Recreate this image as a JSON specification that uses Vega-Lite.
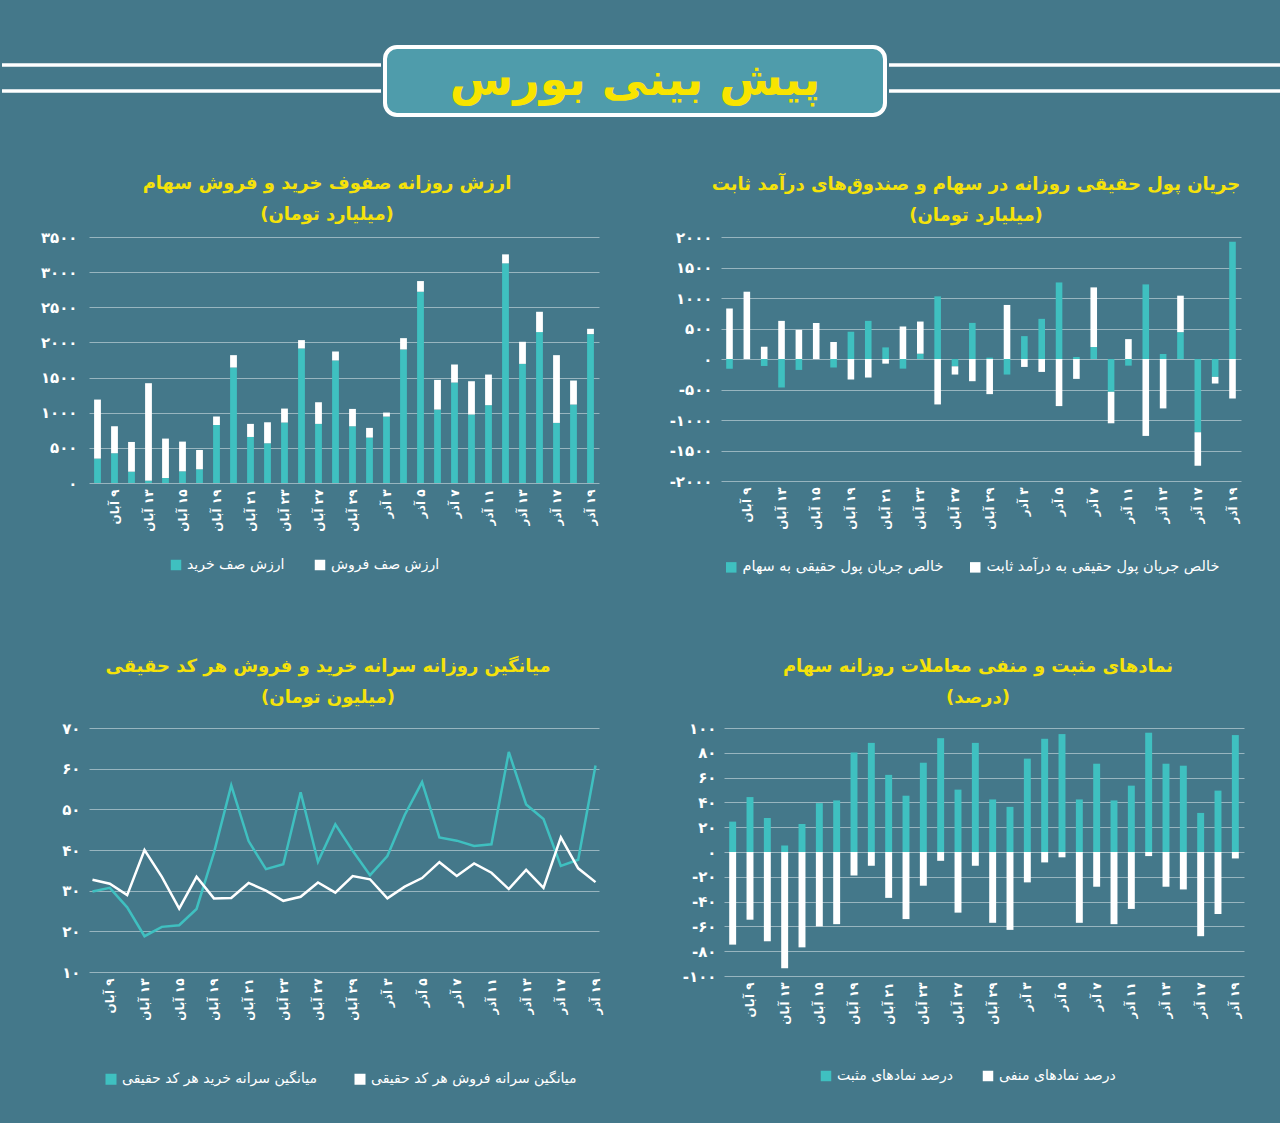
{
  "$schema": "https://vega.github.io/schema/vega-lite/v6.json",
  "background": "#44788a",
  "padding": {"top": 45, "left": 0, "right": 0, "bottom": 60},
  "datasets": {
    "days": [
      {"d": "\u200f۸ آبان", "buy": 347, "sell": 840, "eq": -158, "fi": 826, "pb": 29.8, "ps": 32.7, "pos": 24.5, "neg": -74.7},
      {"d": "\u200f۹ آبان", "buy": 423, "sell": 384, "eq": 0, "fi": 1103, "pb": 30.7, "ps": 31.7, "pos": 44.3, "neg": -54.6},
      {"d": "\u200f۱۲ آبان", "buy": 161, "sell": 423, "eq": -114, "fi": 201, "pb": 25.9, "ps": 28.9, "pos": 27.4, "neg": -72.0},
      {"d": "\u200f۱۳ آبان", "buy": 33, "sell": 1387, "eq": -467, "fi": 625, "pb": 18.8, "ps": 40.0, "pos": 5.2, "neg": -93.8},
      {"d": "\u200f۱۴ آبان", "buy": 71, "sell": 561, "eq": -179, "fi": 478, "pb": 21.1, "ps": 33.4, "pos": 22.6, "neg": -76.9},
      {"d": "\u200f۱۵ آبان", "buy": 166, "sell": 423, "eq": 0, "fi": 592, "pb": 21.5, "ps": 25.6, "pos": 39.4, "neg": -60.0},
      {"d": "\u200f۱۶ آبان", "buy": 195, "sell": 275, "eq": -141, "fi": 277, "pb": 25.5, "ps": 33.4, "pos": 41.6, "neg": -58.2},
      {"d": "\u200f۱۹ آبان", "buy": 826, "sell": 119, "eq": 446, "fi": -337, "pb": 39.3, "ps": 28.1, "pos": 80.2, "neg": -19.0},
      {"d": "\u200f۲۰ آبان", "buy": 1643, "sell": 176, "eq": 625, "fi": -304, "pb": 55.9, "ps": 28.2, "pos": 88.0, "neg": -11.1},
      {"d": "\u200f۲۱ آبان", "buy": 655, "sell": 186, "eq": 190, "fi": -76, "pb": 42.2, "ps": 31.9, "pos": 62.2, "neg": -37.0},
      {"d": "\u200f۲۲ آبان", "buy": 565, "sell": 299, "eq": -158, "fi": 533, "pb": 35.3, "ps": 30.0, "pos": 45.4, "neg": -54.1},
      {"d": "\u200f۲۳ آبان", "buy": 860, "sell": 199, "eq": 87, "fi": 527, "pb": 36.5, "ps": 27.5, "pos": 72.0, "neg": -27.2},
      {"d": "\u200f۲۶ آبان", "buy": 1914, "sell": 119, "eq": 1027, "fi": -745, "pb": 54.2, "ps": 28.5, "pos": 91.8, "neg": -7.1},
      {"d": "\u200f۲۷ آبان", "buy": 841, "sell": 308, "eq": -120, "fi": -135, "pb": 37.1, "ps": 32.0, "pos": 50.3, "neg": -48.9},
      {"d": "\u200f۲۸ آبان", "buy": 1743, "sell": 128, "eq": 592, "fi": -364, "pb": 46.3, "ps": 29.5, "pos": 88.0, "neg": -11.1},
      {"d": "\u200f۲۹ آبان", "buy": 807, "sell": 247, "eq": 22, "fi": -576, "pb": 39.8, "ps": 33.6, "pos": 42.4, "neg": -57.1},
      {"d": "\u200f۳۰ آبان", "buy": 646, "sell": 138, "eq": -255, "fi": 886, "pb": 33.8, "ps": 32.8, "pos": 36.4, "neg": -62.8},
      {"d": "\u200f۳ آذر", "buy": 945, "sell": 57, "eq": 375, "fi": -130, "pb": 38.5, "ps": 28.1, "pos": 75.3, "neg": -24.5},
      {"d": "\u200f۴ آذر", "buy": 1900, "sell": 161, "eq": 658, "fi": -212, "pb": 48.6, "ps": 31.0, "pos": 91.3, "neg": -8.4},
      {"d": "\u200f۵ آذر", "buy": 2721, "sell": 152, "eq": 1255, "fi": -772, "pb": 56.7, "ps": 33.1, "pos": 95.1, "neg": -4.3},
      {"d": "\u200f۶ آذر", "buy": 1045, "sell": 422, "eq": 33, "fi": -326, "pb": 43.1, "ps": 37.0, "pos": 42.4, "neg": -57.1},
      {"d": "\u200f۷ آذر", "buy": 1429, "sell": 257, "eq": 196, "fi": 978, "pb": 42.3, "ps": 33.6, "pos": 71.2, "neg": -28.0},
      {"d": "\u200f۱۰ آذر", "buy": 974, "sell": 474, "eq": -538, "fi": -516, "pb": 41.0, "ps": 36.7, "pos": 41.6, "neg": -58.2},
      {"d": "\u200f۱۱ آذر", "buy": 1107, "sell": 436, "eq": -109, "fi": 326, "pb": 41.4, "ps": 34.4, "pos": 53.5, "neg": -45.9},
      {"d": "\u200f۱۲ آذر", "buy": 3125, "sell": 128, "eq": 1223, "fi": -1261, "pb": 64.1, "ps": 30.4, "pos": 96.2, "neg": -3.3},
      {"d": "\u200f۱۳ آذر", "buy": 1695, "sell": 314, "eq": 82, "fi": -810, "pb": 51.2, "ps": 35.1, "pos": 71.2, "neg": -28.0},
      {"d": "\u200f۱۴ آذر", "buy": 2147, "sell": 289, "eq": 440, "fi": 598, "pb": 47.6, "ps": 30.7, "pos": 69.6, "neg": -30.2},
      {"d": "\u200f۱۷ آذر", "buy": 855, "sell": 964, "eq": -1201, "fi": -549, "pb": 36.1, "ps": 43.1, "pos": 31.5, "neg": -67.9},
      {"d": "\u200f۱۸ آذر", "buy": 1116, "sell": 342, "eq": -293, "fi": -109, "pb": 37.6, "ps": 35.5, "pos": 49.5, "neg": -50.0},
      {"d": "\u200f۱۹ آذر", "buy": 2118, "sell": 76, "eq": 1924, "fi": -647, "pb": 60.8, "ps": 32.1, "pos": 94.3, "neg": -5.2}
    ]
  },
  "spacing": 58,
  "resolve": {"scale": {"color": "independent", "x": "independent", "y": "independent"}, "legend": {"color": "independent"}},
  "vconcat": [
    {
      "spacing": 0,
      "resolve": {"scale": {"color": "independent", "x": "independent", "y": "independent"}},
      "hconcat": [
        {
          "width": 292, "height": 68,
          "data": {"values": [{"ly": 18}, {"ly": 44}]},
          "mark": {"type": "rule", "color": "#ffffff", "strokeWidth": 3.5},
          "encoding": {"y": {"field": "ly", "type": "quantitative", "scale": {"domain": [0, 68], "reverse": true},
            "axis": {"values": [18, 44], "title": null, "labels": false, "domain": false, "grid": false, "ticks": true, "tickSize": 87, "tickWidth": 3.5, "tickColor": "#ffffff", "translate": 0, "minExtent": 88, "maxExtent": 88}}}
        },
        {
          "width": 500, "height": 68,
          "view": {"fill": "#4f9cab", "stroke": "#ffffff", "strokeWidth": 4, "cornerRadius": 12},
          "data": {"values": [{"t": "پیش بینی بورس"}]},
          "mark": {"type": "text", "font": "DejaVu Sans", "fontSize": 46, "fontWeight": "bold", "color": "#f8e400", "baseline": "middle", "align": "center"},
          "encoding": {"text": {"field": "t", "type": "nominal"}}
        },
        {
          "width": 400, "height": 68,
          "data": {"values": [{"ly": 18}, {"ly": 44}]},
          "mark": {"type": "rule", "color": "#ffffff", "strokeWidth": 3.5},
          "encoding": {"y": {"field": "ly", "type": "quantitative", "scale": {"domain": [0, 68], "reverse": true}, "axis": null}}
        }
      ]
    },
    {
      "spacing": 84,
      "resolve": {"scale": {"color": "independent", "x": "independent", "y": "independent"}, "legend": {"color": "independent"}},
      "vconcat": [
        {
          "spacing": 62,
          "resolve": {"scale": {"color": "independent", "x": "independent", "y": "independent"}, "legend": {"color": "independent"}},
          "hconcat": [
            {
              "width": 510, "height": 246,
              "data": {"name": "days"},
              "transform": [{"fold": ["buy", "sell"], "as": ["k", "v"]}],
              "title": {"text": ["ارزش روزانه صفوف خرید و فروش سهام", "(میلیارد تومان)"], "dx": -17, "offset": 6},
              "mark": {"type": "bar"},
              "encoding": {
                "x": {"field": "d", "type": "ordinal", "sort": null, "title": null, "scale": {"paddingInner": 0.6, "paddingOuter": 0.3},
                  "axis": {"values": ["\u200f۹ آبان", "\u200f۱۳ آبان", "\u200f۱۵ آبان", "\u200f۱۹ آبان", "\u200f۲۱ آبان", "\u200f۲۳ آبان", "\u200f۲۷ آبان", "\u200f۲۹ آبان", "\u200f۳ آذر", "\u200f۵ آذر", "\u200f۷ آذر", "\u200f۱۱ آذر", "\u200f۱۳ آذر", "\u200f۱۷ آذر", "\u200f۱۹ آذر"]}},
                "y": {"field": "v", "type": "quantitative", "title": null, "scale": {"domain": [0, 3500]},
                  "axis": {"values": [0, 500, 1000, 1500, 2000, 2500, 3000, 3500], "minExtent": 88, "maxExtent": 88, "labelPadding": 12,
                    "labelExpr": "replace(replace(replace(replace(replace(replace(replace(replace(replace(replace(''+datum.value,regexp('0','g'),'۰'),regexp('1','g'),'۱'),regexp('2','g'),'۲'),regexp('3','g'),'۳'),regexp('4','g'),'۴'),regexp('5','g'),'۵'),regexp('6','g'),'۶'),regexp('7','g'),'۷'),regexp('8','g'),'۸'),regexp('9','g'),'۹')"}},
                "color": {"field": "k", "type": "nominal", "scale": {"domain": ["buy", "sell"], "range": ["#3fc0c0", "#ffffff"]},
                  "legend": {"title": null, "orient": "none", "legendX": 80, "legendY": 321, "labelExpr": "datum.label == 'buy' ? 'ارزش صف خرید' : 'ارزش صف فروش'"}},
                "order": {"field": "k", "sort": "ascending"}
              }
            },
            {
              "width": 520, "height": 244,
              "data": {"name": "days"},
              "transform": [{"fold": ["eq", "fi"], "as": ["k", "v"]}],
              "title": {"text": ["جریان پول حقیقی روزانه در سهام و صندوق‌های درآمد ثابت", "(میلیارد تومان)"], "dx": -5, "offset": 5},
              "mark": {"type": "bar"},
              "encoding": {
                "x": {"field": "d", "type": "ordinal", "sort": null, "title": null, "scale": {"paddingInner": 0.62, "paddingOuter": 0.3},
                  "axis": {"values": ["\u200f۹ آبان", "\u200f۱۳ آبان", "\u200f۱۵ آبان", "\u200f۱۹ آبان", "\u200f۲۱ آبان", "\u200f۲۳ آبان", "\u200f۲۷ آبان", "\u200f۲۹ آبان", "\u200f۳ آذر", "\u200f۵ آذر", "\u200f۷ آذر", "\u200f۱۱ آذر", "\u200f۱۳ آذر", "\u200f۱۷ آذر", "\u200f۱۹ آذر"]}},
                "y": {"field": "v", "type": "quantitative", "title": null, "scale": {"domain": [-2000, 2000]},
                  "axis": {"values": [-2000, -1500, -1000, -500, 0, 500, 1000, 1500, 2000], "minExtent": 60, "maxExtent": 60, "labelPadding": 9,
                    "labelExpr": "replace(replace(replace(replace(replace(replace(replace(replace(replace(replace(''+datum.value,regexp('0','g'),'۰'),regexp('1','g'),'۱'),regexp('2','g'),'۲'),regexp('3','g'),'۳'),regexp('4','g'),'۴'),regexp('5','g'),'۵'),regexp('6','g'),'۶'),regexp('7','g'),'۷'),regexp('8','g'),'۸'),regexp('9','g'),'۹')"}},
                "color": {"field": "k", "type": "nominal", "scale": {"domain": ["eq", "fi"], "range": ["#3fc0c0", "#ffffff"]},
                  "legend": {"title": null, "orient": "none", "legendX": 3, "legendY": 323, "labelFontSize": 14.5, "columnPadding": 24, "labelExpr": "datum.label == 'eq' ? 'خالص جریان پول حقیقی به سهام' : 'خالص جریان پول حقیقی به درآمد ثابت'"}},
                "order": {"field": "k", "sort": "ascending"}
              }
            }
          ]
        },
        {
          "spacing": 62,
          "resolve": {"scale": {"color": "independent", "x": "independent", "y": "independent"}, "legend": {"color": "independent"}},
          "hconcat": [
            {
              "width": 510, "height": 244,
              "data": {"name": "days"},
              "transform": [{"fold": ["pb", "ps"], "as": ["k", "v"]}],
              "title": {"text": ["میانگین روزانه سرانه خرید و فروش هر کد حقیقی", "(میلیون تومان)"], "dx": -16, "offset": 14},
              "mark": {"type": "line", "strokeWidth": 2.5},
              "encoding": {
                "x": {"field": "d", "type": "ordinal", "sort": null, "title": null, "scale": {"padding": 0.2},
                  "axis": {"values": ["\u200f۹ آبان", "\u200f۱۳ آبان", "\u200f۱۵ آبان", "\u200f۱۹ آبان", "\u200f۲۱ آبان", "\u200f۲۳ آبان", "\u200f۲۷ آبان", "\u200f۲۹ آبان", "\u200f۳ آذر", "\u200f۵ آذر", "\u200f۷ آذر", "\u200f۱۱ آذر", "\u200f۱۳ آذر", "\u200f۱۷ آذر", "\u200f۱۹ آذر"]}},
                "y": {"field": "v", "type": "quantitative", "title": null, "scale": {"domain": [10, 70]},
                  "axis": {"values": [10, 20, 30, 40, 50, 60, 70], "minExtent": 88, "maxExtent": 88, "labelPadding": 9,
                    "labelExpr": "replace(replace(replace(replace(replace(replace(replace(replace(replace(replace(''+datum.value,regexp('0','g'),'۰'),regexp('1','g'),'۱'),regexp('2','g'),'۲'),regexp('3','g'),'۳'),regexp('4','g'),'۴'),regexp('5','g'),'۵'),regexp('6','g'),'۶'),regexp('7','g'),'۷'),regexp('8','g'),'۸'),regexp('9','g'),'۹')"}},
                "color": {"field": "k", "type": "nominal", "scale": {"domain": ["pb", "ps"], "range": ["#3fc0c0", "#ffffff"]},
                  "legend": {"title": null, "orient": "none", "legendX": 15, "legendY": 344, "symbolType": "square", "symbolSize": 25, "symbolStrokeWidth": 6,
                    "labelExpr": "datum.label == 'pb' ? 'میانگین سرانه خرید هر کد حقیقی' : 'میانگین سرانه فروش هر کد حقیقی'"}}
              }
            },
            {
              "width": 520, "height": 248,
              "data": {"name": "days"},
              "transform": [{"fold": ["pos", "neg"], "as": ["k", "v"]}],
              "title": {"text": ["نمادهای مثبت و منفی معاملات روزانه سهام", "(درصد)"], "dx": -6, "offset": 14},
              "mark": {"type": "bar"},
              "encoding": {
                "x": {"field": "d", "type": "ordinal", "sort": null, "title": null, "scale": {"paddingInner": 0.6, "paddingOuter": 0.3},
                  "axis": {"values": ["\u200f۹ آبان", "\u200f۱۳ آبان", "\u200f۱۵ آبان", "\u200f۱۹ آبان", "\u200f۲۱ آبان", "\u200f۲۳ آبان", "\u200f۲۷ آبان", "\u200f۲۹ آبان", "\u200f۳ آذر", "\u200f۵ آذر", "\u200f۷ آذر", "\u200f۱۱ آذر", "\u200f۱۳ آذر", "\u200f۱۷ آذر", "\u200f۱۹ آذر"]}},
                "y": {"field": "v", "type": "quantitative", "title": null, "scale": {"domain": [-100, 100]},
                  "axis": {"values": [-100, -80, -60, -40, -20, 0, 20, 40, 60, 80, 100], "minExtent": 60, "maxExtent": 60, "labelPadding": 8,
                    "labelExpr": "replace(replace(replace(replace(replace(replace(replace(replace(replace(replace(''+datum.value,regexp('0','g'),'۰'),regexp('1','g'),'۱'),regexp('2','g'),'۲'),regexp('3','g'),'۳'),regexp('4','g'),'۴'),regexp('5','g'),'۵'),regexp('6','g'),'۶'),regexp('7','g'),'۷'),regexp('8','g'),'۸'),regexp('9','g'),'۹')"}},
                "color": {"field": "k", "type": "nominal", "scale": {"domain": ["pos", "neg"], "range": ["#3fc0c0", "#ffffff"]},
                  "legend": {"title": null, "orient": "none", "legendX": 95, "legendY": 341, "labelExpr": "datum.label == 'pos' ? 'درصد نمادهای مثبت' : 'درصد نمادهای منفی'"}}
              }
            }
          ]
        }
      ]
    }
  ],
  "config": {
    "font": "DejaVu Sans",
    "view": {"stroke": null},
    "axis": {"domain": false, "ticks": false, "labelColor": "#ffffff", "labelFont": "DejaVu Sans", "labelFontWeight": "bold", "grid": false},
    "axisY": {"grid": true, "gridColor": "#ffffff", "gridOpacity": 0.45, "gridWidth": 1, "labelFontSize": 15},
    "axisX": {"labelAngle": -90, "labelFontSize": 12, "labelPadding": 6, "labelOverlap": false},
    "legend": {"direction": "horizontal", "labelColor": "#ffffff", "labelFont": "DejaVu Sans", "labelFontSize": 14, "labelLimit": 500, "symbolType": "square", "symbolSize": 110, "symbolStrokeWidth": 0, "columnPadding": 28},
    "title": {"color": "#f5e20a", "font": "DejaVu Sans", "fontSize": 18, "fontWeight": "bold", "lineHeight": 31, "anchor": "middle", "frame": "group"}
  }
}
